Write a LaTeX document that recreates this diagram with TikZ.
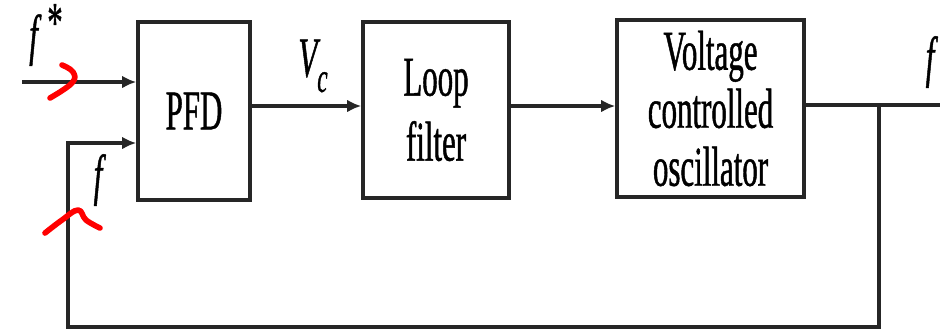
\documentclass[tikz,border=0pt]{standalone}
\usepackage{fontspec}
\setmainfont{Liberation Serif}[FakeStretch=0.55, FakeBold=0.8]
\usetikzlibrary{positioning, arrows.meta, calc}

\begin{document}
\begin{tikzpicture}[
  font=\fontsize{16}{16.5}\selectfont,
  block/.style={draw=black!85, line width=1pt, align=center, inner sep=2pt},
  sig/.style={draw=black!85, line width=0.9pt, -{Latex[length=4pt, width=3.6pt]}},
  wire/.style={draw=black!85, line width=0.9pt},
  lbl/.style={font=\fontsize{16}{16}\selectfont\itshape, inner sep=0pt},
  scrib/.style={draw=red, line width=1.6pt, line cap=round, line join=round}
]
\useasboundingbox (0,0) rectangle (9.51,-3.31);

% the three blocks of the loop
\node[block, minimum width=1.12cm, minimum height=1.78cm] (pfd) at (1.94,-1.11) {PFD};
\node[block, minimum width=1.46cm, minimum height=1.76cm,
  font=\fontsize{16}{18.5}\selectfont] (lf) at (4.36,-1.10) {Loop\\filter};
\node[block, minimum width=1.87cm, minimum height=1.77cm] (vco) at (7.105,-1.085) {Voltage\\controlled\\oscillator};

% reference points for the wires
\coordinate (in1) at (0.22,-0.82);
\coordinate (fbl) at (0.68,-1.43);
\coordinate (low) at (0.68,-3.27);
\coordinate (mid) at (0,-1.06);
\coordinate (tap) at (8.79,-1.05);
\coordinate (out) at (9.40,-1.05);

% forward path
\draw[sig] (in1) -- (in1 -| pfd.west);
\draw[sig] (pfd.east |- mid) -- (lf.west |- mid);
\draw[sig] (lf.east |- mid) -- (vco.west |- mid);
\draw[wire] (vco.east |- out) -- (out);

% feedback path
\draw[sig] (tap) |- (low) |- (pfd.west |- fbl);

% signal labels
\node[lbl] (fs) at (0.46,-0.35) {f\,\raisebox{0.5ex}{\upshape*}};
\node[lbl] (vc) at (3.13,-0.66) {V\raisebox{-0.6ex}{\fontsize{12}{12}\selectfont c}};
\node[lbl] (ff) at (0.98,-1.80) {f};
\node[lbl] (fo) at (9.30,-0.62) {f};

% red pen marks
\draw[scrib] plot[smooth, tension=0.7] coordinates {(0.62,-0.65) (0.73,-0.72) (0.72,-0.83) (0.50,-0.98)};
\draw[scrib] plot[smooth, tension=0.7] coordinates {(0.45,-2.33) (0.62,-2.20) (0.78,-2.10) (0.86,-2.20) (1.00,-2.28)};

\end{tikzpicture}
\end{document}
